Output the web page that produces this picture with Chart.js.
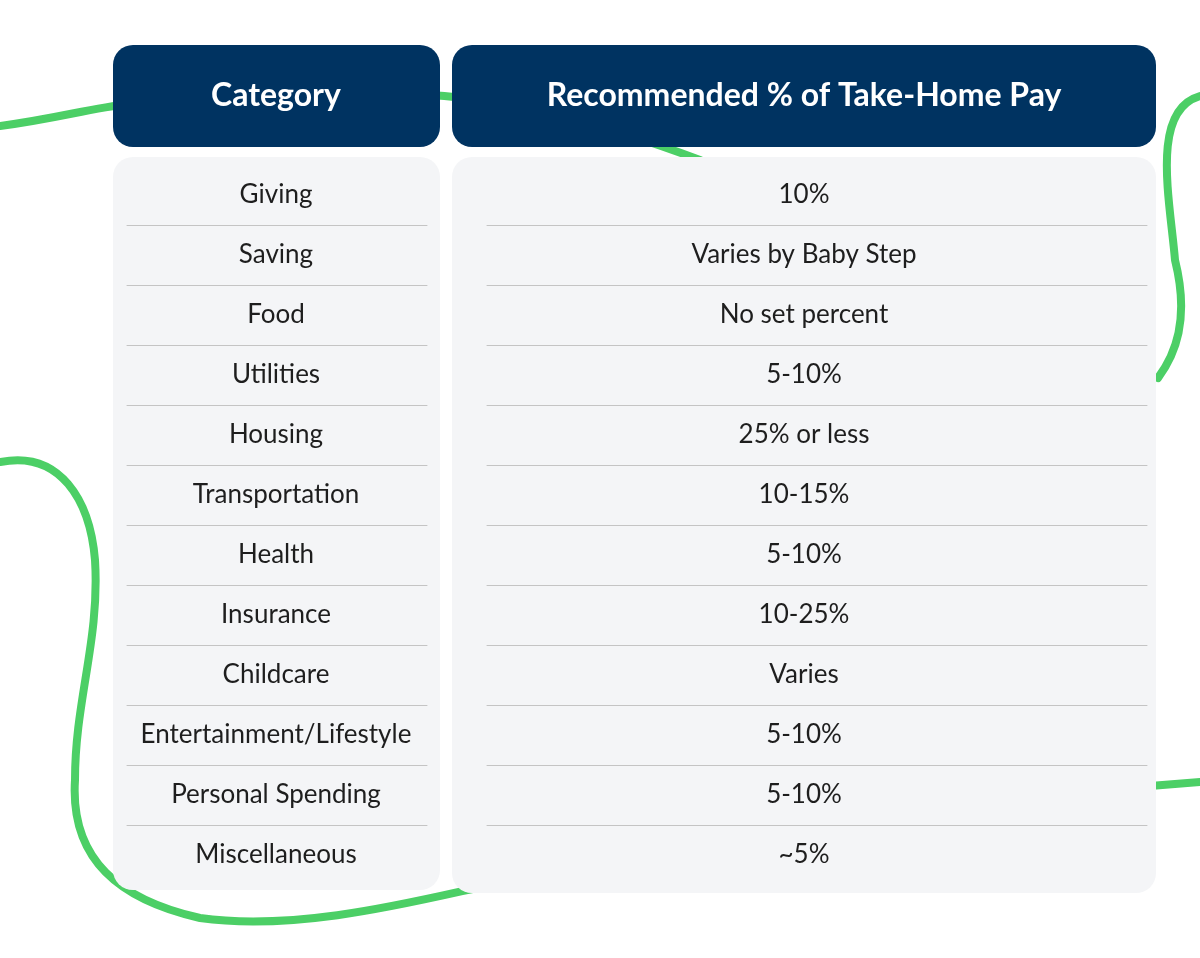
<!DOCTYPE html>
<html><head><meta charset="utf-8">
<script src="https://cdn.jsdelivr.net/npm/chart.js@4"></script>
<style>html,body{margin:0;padding:0;background:#fff}#wrap{width:1200px;height:958px}</style>
</head><body><div id="wrap"><canvas id="c"></canvas></div>
<script>
const headers = ["Category", "Recommended % of Take-Home Pay"];
const categories = ["Giving","Saving","Food","Utilities","Housing","Transportation","Health","Insurance","Childcare","Entertainment/Lifestyle","Personal Spending","Miscellaneous"];
const recommended = ["10%","Varies by Baby Step","No set percent","5-10%","25% or less","10-15%","5-10%","10-25%","Varies","5-10%","5-10%","~5%"];

function rr(ctx,x,y,w,h,r){ctx.beginPath();ctx.moveTo(x+r,y);ctx.arcTo(x+w,y,x+w,y+h,r);ctx.arcTo(x+w,y+h,x,y+h,r);ctx.arcTo(x,y+h,x,y,r);ctx.arcTo(x,y,x+w,y,r);ctx.closePath();}

const tablePlugin = {
  id:'table',
  beforeDraw(chart){
    const ctx=chart.ctx;
    ctx.save();
    ctx.fillStyle='#fff';ctx.fillRect(0,0,chart.width,chart.height);
    // decorative squiggles
    ctx.strokeStyle='#4ccf66';ctx.lineWidth=8;ctx.lineCap='round';ctx.lineJoin='round';
    ctx.beginPath();ctx.moveTo(0,126);ctx.bezierCurveTo(60,118,90,108,130,104);ctx.stroke();
    ctx.beginPath();ctx.moveTo(430,95);ctx.bezierCurveTo(520,100,620,130,700,160);ctx.stroke();
    ctx.beginPath();ctx.moveTo(1200,96);ctx.bezierCurveTo(1150,110,1170,200,1175,260);ctx.bezierCurveTo(1190,320,1175,355,1158,378);ctx.stroke();
    ctx.beginPath();ctx.moveTo(0,462);ctx.bezierCurveTo(60,450,90,500,95,560);ctx.bezierCurveTo(100,640,75,700,75,780);
    ctx.bezierCurveTo(70,860,120,900,200,918);ctx.bezierCurveTo(300,932,420,900,490,885);ctx.stroke();
    ctx.beginPath();ctx.moveTo(1150,786);ctx.lineTo(1200,782);ctx.stroke();
    // panels
    ctx.fillStyle='#f4f5f7';
    rr(ctx,113,157,327,733,20);ctx.fill();
    rr(ctx,452,157,704,736,20);ctx.fill();
    ctx.fillStyle='#003361';
    rr(ctx,113,45,327,102,20);ctx.fill();
    rr(ctx,452,45,704,102,20);ctx.fill();
    ctx.fillStyle='#fff';ctx.font='bold 32px Lato, "Open Sans", sans-serif';ctx.textAlign='center';ctx.textBaseline='middle';
    ctx.fillText(headers[0],276,96);ctx.fillText(headers[1],804,96);
    // rows via y scale
    const ys=chart.scales.y;
    ctx.fillStyle='#1e1e1e';ctx.font='26px Lato, "Open Sans", sans-serif';
    categories.forEach((c,i)=>{
      const y=ys.getPixelForValue(i);
      ctx.fillText(c,276,y);ctx.fillText(recommended[i],804,y);
      if(i<categories.length-1){
        const ly=Math.round((y+ys.getPixelForValue(i+1))/2)+0.5;
        ctx.strokeStyle='#c4c4c4';ctx.lineWidth=1;
        ctx.beginPath();ctx.moveTo(127,ly);ctx.lineTo(427,ly);ctx.moveTo(487,ly);ctx.lineTo(1147,ly);ctx.stroke();
      }
    });
    ctx.restore();
  }
};

new Chart(document.getElementById('c'),{
  type:'bar',
  data:{labels:categories,datasets:[{data:categories.map(()=>null)}]},
  options:{
    responsive:true,maintainAspectRatio:false,animation:false,indexAxis:'y',
    layout:{padding:{top:165,bottom:73,left:113,right:44}},
    plugins:{legend:{display:false},tooltip:{enabled:false}},
    scales:{y:{type:'category',display:false,offset:true},x:{display:false,min:0,max:1}}
  },
  plugins:[tablePlugin]
});
</script></body></html>
